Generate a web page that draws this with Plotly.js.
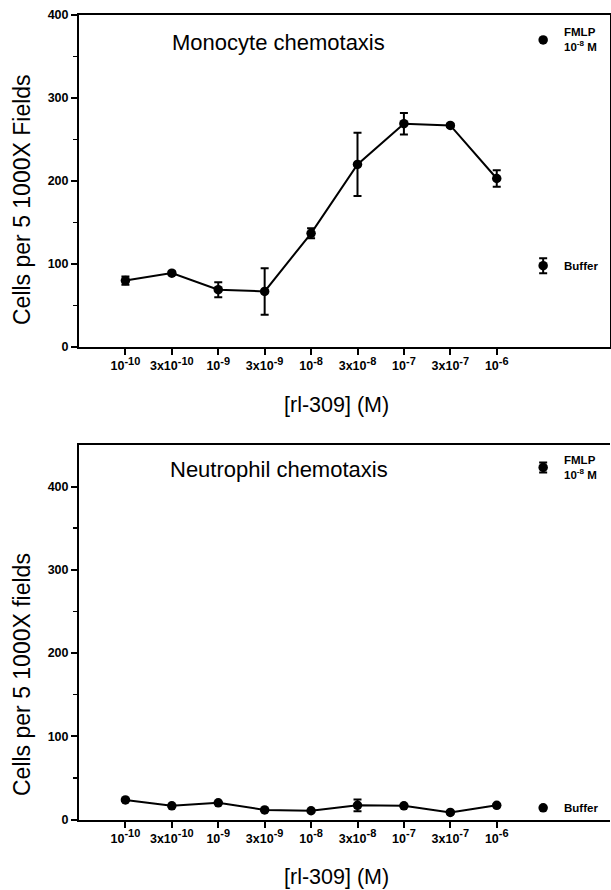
<!DOCTYPE html>
<html>
<head>
<meta charset="utf-8">
<script src="https://cdn.plot.ly/plotly-3.0.1.min.js"></script>
<style>html,body{margin:0;padding:0;background:#fff;}#chart{width:611px;height:890px;}</style>
</head>
<body>
<div id="chart"></div>
<script>
// Concentration categories of rI-309 (M)
const concLabels = ["10<sup>-10</sup>", "3x10<sup>-10</sup>", "10<sup>-9</sup>", "3x10<sup>-9</sup>", "10<sup>-8</sup>", "3x10<sup>-8</sup>", "10<sup>-7</sup>", "3x10<sup>-7</sup>", "10<sup>-6</sup>"];
const concIndex = [0, 1, 2, 3, 4, 5, 6, 7, 8];

// Monocyte chemotaxis (cells per 5 1000X fields)
const monoMean = [80, 89, 69, 67, 137, 220, 269, 267, 203];
const monoErr  = [5, 2, 9, 28, 6, 38, 13, 2, 10];
const monoFMLP = 370;
const monoBuffer = 98, monoBufferErr = 9;

// Neutrophil chemotaxis (cells per 5 1000X fields)
const neutMean = [23.5, 16.5, 20, 11.5, 10.5, 17, 16.5, 8.5, 17];
const neutErr  = [1, 1, 1, 1, 1, 7, 1, 1, 1];
const neutFMLP = 423, neutFMLPErr = 6;
const neutBuffer = 14;

const refX = 9; // position of the reference (control) markers

const FONT = "Liberation Sans, Arial, Helvetica, sans-serif";
const black = "#000";

function mainTrace(y, err, xa, ya) {
  return {
    x: concIndex, y: y, xaxis: xa, yaxis: ya, type: "scatter", mode: "lines+markers",
    line: {color: black, width: 2},
    marker: {color: black, size: 9.5, symbol: "circle"},
    error_y: {type: "data", array: err, visible: true, color: black, thickness: 2, width: 4},
    showlegend: false, hoverinfo: "x+y"
  };
}
function refTrace(y, err, xa, ya) {
  const t = {
    x: [refX], y: [y], xaxis: xa, yaxis: ya, type: "scatter", mode: "markers",
    marker: {color: black, size: 9.5, symbol: "circle"}, showlegend: false
  };
  if (err) t.error_y = {type: "data", array: [err], visible: true, color: black, thickness: 2, width: 4};
  return t;
}

const data = [
  mainTrace(monoMean, monoErr, "x", "y"),
  refTrace(monoFMLP, null, "x", "y"),
  refTrace(monoBuffer, monoBufferErr, "x", "y"),
  mainTrace(neutMean, neutErr, "x2", "y2"),
  refTrace(neutFMLP, neutFMLPErr, "x2", "y2"),
  refTrace(neutBuffer, null, "x2", "y2")
];

const W = 611, H = 890;
const xDom = [79 / W, 610 / W];
const yDomTop = [1 - 347 / H, 1 - 15 / H];
const yDomBot = [1 - 819.5 / H, 1 - 445 / H];

const tickFont = {family: FONT, size: 12.5, color: black, weight: "bold"};
const yTickFont = {family: FONT, size: 12.5, color: black, weight: "bold"};
const supStyle = "font-size:11px";
const tickText = concLabels.map(s => s.replace(/<sup>(.*?)<\/sup>/, '<sup><span style="' + supStyle + '">$1</span></sup>'));

function xAxis(anchor) {
  return {
    domain: xDom, anchor: anchor, range: [-1, 10.44],
    tickmode: "array", tickvals: concIndex, ticktext: tickText,
    ticks: "outside", ticklen: 6, tickwidth: 2, tickcolor: black,
    showline: true, linecolor: black, linewidth: 2, mirror: true,
    showgrid: false, zeroline: false, tickfont: tickFont, fixedrange: true
  };
}
function yAxis(anchor, dom, range, mirror) {
  return {
    domain: dom, anchor: anchor, range: range,
    tickmode: "array", tickvals: [0, 100, 200, 300, 400],
    ticks: "outside", ticklen: 6, tickwidth: 2, tickcolor: black,
    minor: {tickvals: [50, 150, 250, 350], ticks: "outside", ticklen: 4, tickwidth: 1.5, tickcolor: black, showgrid: false},
    showline: true, linecolor: black, linewidth: 2, mirror: mirror,
    showgrid: false, zeroline: false, tickfont: yTickFont, fixedrange: true
  };
}

const panelFont = {family: FONT, size: 22, color: black};
const axisTitleFont = {family: FONT, size: 23, color: black};
const xTitleFont = {family: FONT, size: 21.5, color: black};
const smallFont = {family: FONT, size: 11.5, color: black, weight: "bold"};

const annotations = [
  // panel titles
  {xref: "paper", yref: "y", x: 278 / W, y: 367, text: "Monocyte chemotaxis", showarrow: false, font: panelFont, xanchor: "center", yanchor: "middle"},
  {xref: "paper", yref: "y2", x: 279 / W, y: 420, text: "Neutrophil chemotaxis", showarrow: false, font: panelFont, xanchor: "center", yanchor: "middle"},
  // y axis titles
  {xref: "paper", yref: "paper", x: 22 / W, y: 1 - 200 / H, text: "Cells per 5 1000X Fields", textangle: -90, showarrow: false, font: axisTitleFont, xanchor: "center", yanchor: "middle"},
  {xref: "paper", yref: "paper", x: 22 / W, y: 1 - 675 / H, text: "Cells per 5 1000X fields", textangle: -90, showarrow: false, font: axisTitleFont, xanchor: "center", yanchor: "middle"},
  // x axis titles
  {xref: "paper", yref: "paper", x: 336 / W, y: 1 - 405 / H, text: "[rl-309] (M)", showarrow: false, font: xTitleFont, xanchor: "center", yanchor: "middle"},
  {xref: "paper", yref: "paper", x: 336 / W, y: 1 - 877 / H, text: "[rl-309] (M)", showarrow: false, font: xTitleFont, xanchor: "center", yanchor: "middle"},
  // reference labels
  {xref: "x", yref: "y", x: 9.4, y: monoFMLP, text: "FMLP<br>10<sup>-8</sup> M", showarrow: false, font: smallFont, xanchor: "left", yanchor: "middle", align: "left"},
  {xref: "x", yref: "y", x: 9.4, y: monoBuffer, text: "Buffer", showarrow: false, font: smallFont, xanchor: "left", yanchor: "middle"},
  {xref: "x2", yref: "y2", x: 9.4, y: neutFMLP, text: "FMLP<br>10<sup>-8</sup> M", showarrow: false, font: smallFont, xanchor: "left", yanchor: "middle", align: "left"},
  {xref: "x2", yref: "y2", x: 9.4, y: neutBuffer, text: "Buffer", showarrow: false, font: smallFont, xanchor: "left", yanchor: "middle"}
];

const layout = {
  width: W, height: H,
  margin: {l: 0, r: 0, t: 0, b: 0},
  paper_bgcolor: "#fff", plot_bgcolor: "#fff",
  showlegend: false,
  font: {family: FONT, color: black},
  xaxis: xAxis("y"),
  yaxis: yAxis("x", yDomTop, [0, 400], true),
  xaxis2: xAxis("y2"),
  yaxis2: yAxis("x2", yDomBot, [0, 450], false),
  annotations: annotations
};

Plotly.newPlot("chart", data, layout, {displayModeBar: false, staticPlot: true});
</script>
</body>
</html>
